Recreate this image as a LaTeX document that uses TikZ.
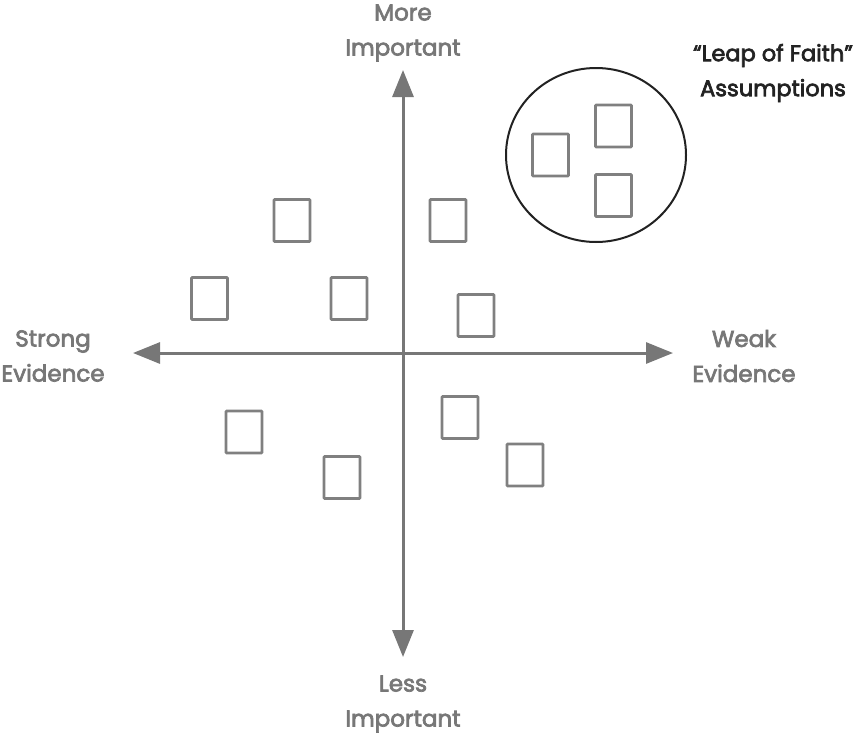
\documentclass[tikz,border=0pt]{standalone}
\usepackage{fontspec}
\setmainfont{Poppins}
\newfontfamily\lblfont{Poppins}[FakeBold=3]
\usetikzlibrary{arrows.meta}
\definecolor{axisgray}{HTML}{777777}
\definecolor{boxgray}{HTML}{808080}
\definecolor{darktext}{HTML}{222222}
\tikzset{
  axis/.style={draw=axisgray, line width=3pt, -{Triangle[length=27pt,width=21pt]}},
  card/.style={draw=boxgray, line width=2.6pt, minimum width=36pt, minimum height=42pt, inner sep=0pt, rounded corners=0.8pt},
  axlabel/.style={text=axisgray, font=\lblfont\fontsize{23}{35}\selectfont, align=center, inner sep=0pt},
  leaplabel/.style={text=darktext, font=\lblfont\fontsize{22.5}{35}\selectfont, align=center, inner sep=0pt},
  leapcircle/.style={draw=darktext, line width=2pt}
}
\begin{document}
\begin{tikzpicture}[x=1pt,y=-1pt]
\useasboundingbox (0,0) rectangle (867,739);
% axes
\coordinate (c) at (403,353);
\coordinate (top) at (403,70);
\coordinate (bot) at (403,657);
\coordinate (lft) at (133,353);
\coordinate (rgt) at (673,353);
\draw[axis] (c) -- (top);
\draw[axis] (c) -- (bot);
\draw[axis] (c) -- (lft);
\draw[axis] (c) -- (rgt);
% labels
\node[axlabel] (more) at (403,33) {More\\Important};
\node[axlabel] (less) at (403,704) {Less\\Important};
\node[axlabel] (strong) at (53,356) {Strong\\Evidence};
\node[axlabel] (weak) at (744,356) {Weak\\Evidence};
\node[leaplabel] (leap) at (773,73) {“Leap of Faith”\\Assumptions};
% circle
\draw[leapcircle] (596,155) ellipse [x radius=90, y radius=87];
% cards
\node[card] (r1) at (292,220.5) {};
\node[card] (r2) at (448,220.5) {};
\node[card] (r3) at (209.5,298.5) {};
\node[card] (r4) at (349,298.5) {};
\node[card] (r5) at (476,315.5) {};
\node[card] (r6) at (244,432) {};
\node[card] (r7) at (342,477.5) {};
\node[card] (r8) at (460,417.5) {};
\node[card] (r9) at (525,465) {};
\node[card] (l1) at (550.5,155) {};
\node[card] (l2) at (613.5,126) {};
\node[card] (l3) at (613.5,195.5) {};
\end{tikzpicture}
\end{document}
